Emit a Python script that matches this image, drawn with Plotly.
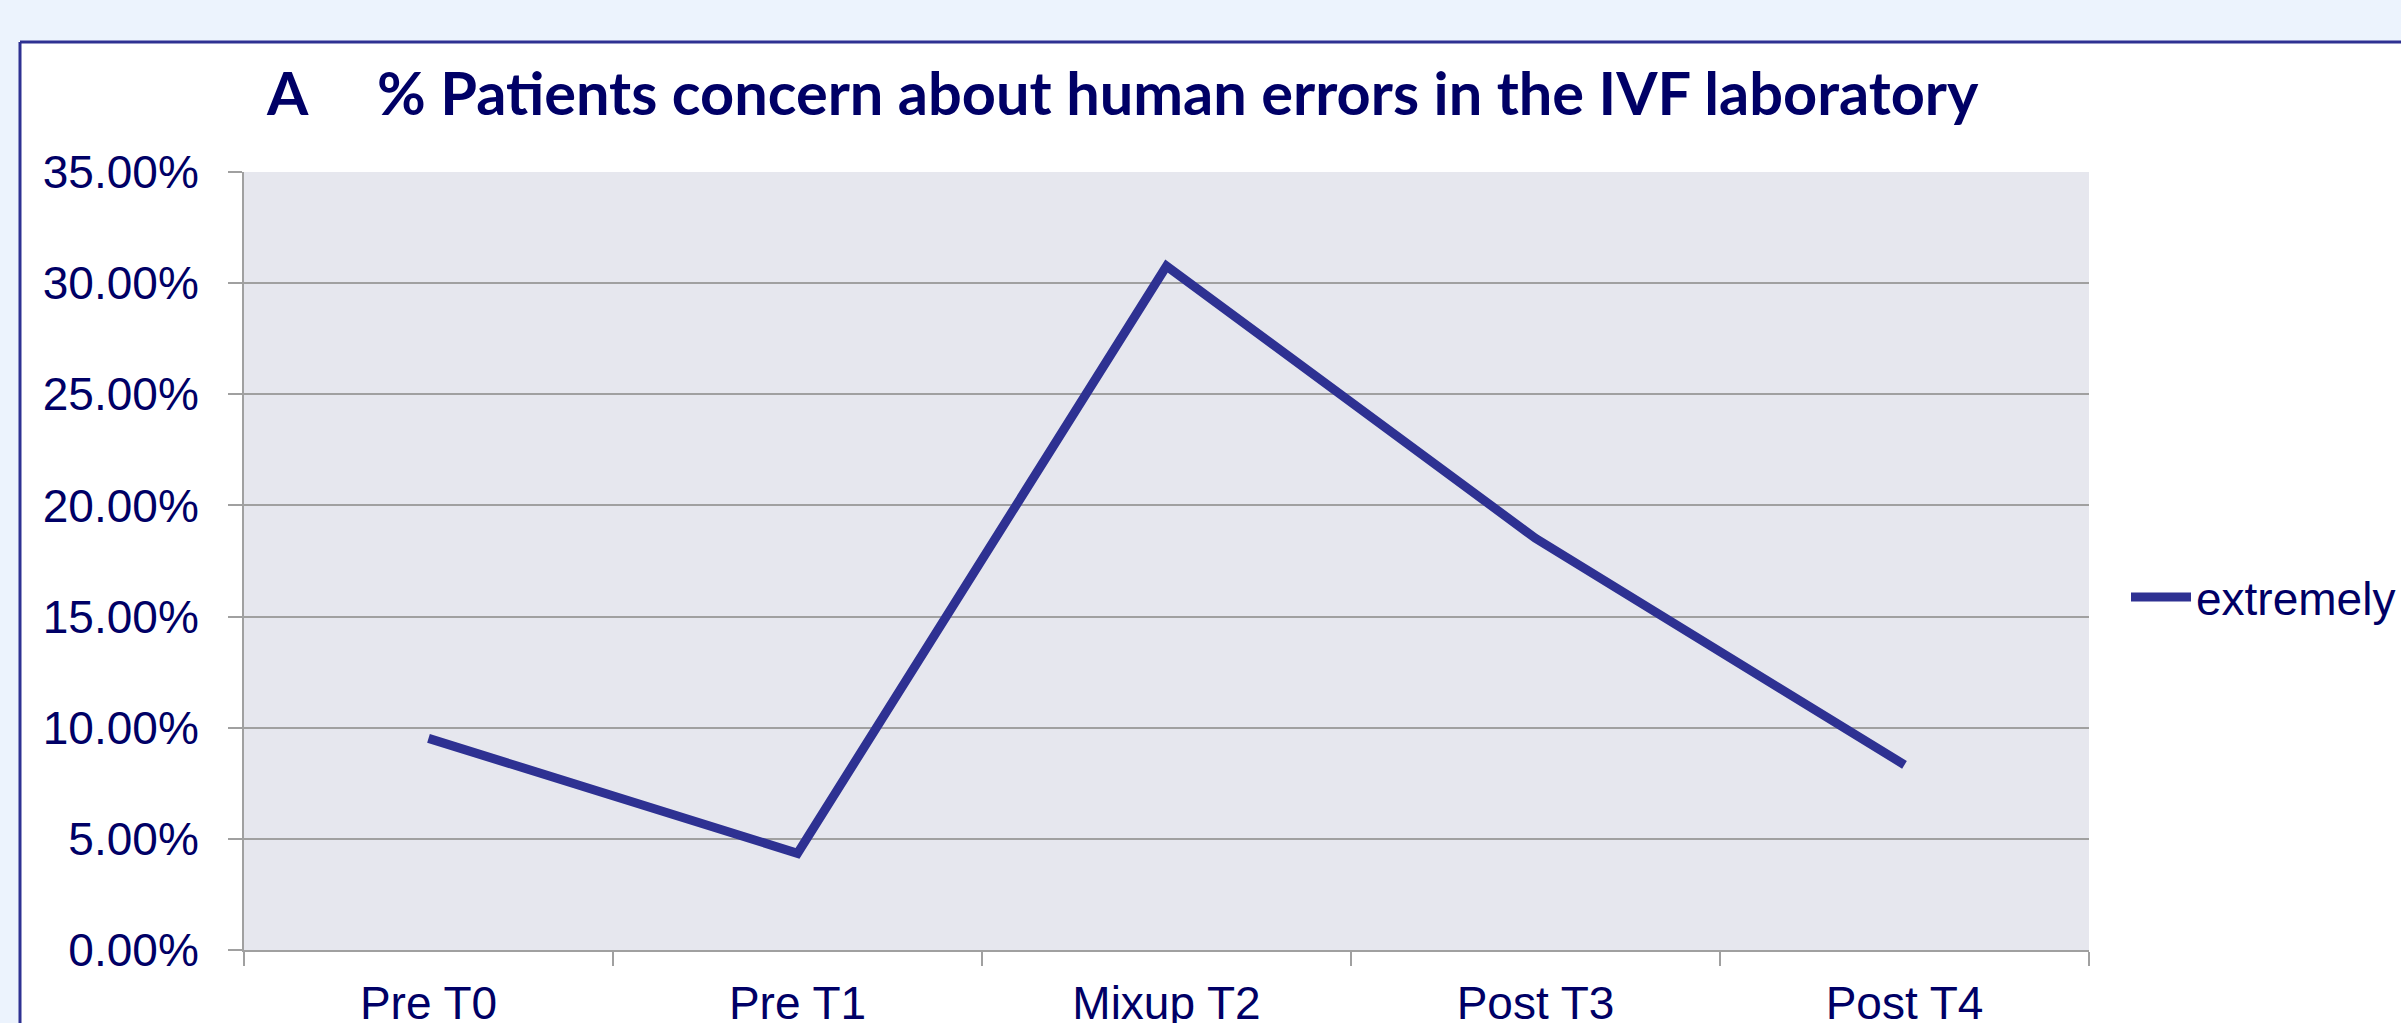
import plotly.graph_objects as go

# ---- data ----
categories = ["Pre T0", "Pre T1", "Mixup T2", "Post T3", "Post T4"]
extremely = [0.0952, 0.0435, 0.3077, 0.1852, 0.0833]
y_tick_values = [0.0, 0.05, 0.10, 0.15, 0.20, 0.25, 0.30, 0.35]
series_name = "extremely"
title_letter = "A"
title_text = "% Patients concern about human errors in the IVF laboratory"

# ---- layout constants ----
W, H = 2401, 1023
L, R, T, B = 244, 312, 172, 73
PW, PH = W - L - R, H - T - B

NAVY = "#000066"
LINE = "#2E3192"
GRID = "#A0A0A0"
PAGE = "#ECF3FD"
PLOTBG = "#E6E7EE"
FONT = "Liberation Sans, Arial, sans-serif"


def px(x):
    return (x - L) / PW


def py(y):
    return (H - B - y) / PH


fig = go.Figure()
fig.add_trace(go.Scatter(
    x=categories, y=extremely, mode="lines", name=series_name,
    line=dict(color=LINE, width=9),
))

shapes = [
    dict(type="rect", xref="paper", yref="paper", x0=px(-20), x1=px(2500),
         y0=py(41), y1=py(-20), fillcolor=PAGE, line=dict(width=0), layer="below"),
    dict(type="rect", xref="paper", yref="paper", x0=px(-20), x1=px(19),
         y0=py(1100), y1=py(41), fillcolor=PAGE, line=dict(width=0), layer="below"),
    dict(type="line", xref="paper", yref="paper", x0=px(20), x1=px(2500),
         y0=py(42), y1=py(42), line=dict(color=LINE, width=3), layer="below"),
    dict(type="line", xref="paper", yref="paper", x0=px(20), x1=px(20),
         y0=py(42), y1=py(1100), line=dict(color=LINE, width=3), layer="below"),
]

annotations = [
    dict(text="<b>" + title_letter + "</b>", xref="paper", yref="paper",
         x=px(264), y=py(92), xanchor="left", yanchor="middle", showarrow=False,
         font=dict(family="Lato, sans-serif", size=59.5, color=NAVY)),
    dict(text="<b>" + title_text + "</b>", xref="paper", yref="paper",
         x=px(375), y=py(92), xanchor="left", yanchor="middle", showarrow=False,
         font=dict(family="Lato, sans-serif", size=59.5, color=NAVY)),
]

fig.update_layout(
    template="none",
    width=W, height=H,
    margin=dict(l=L, r=R, t=T, b=B, pad=0, autoexpand=False),
    paper_bgcolor="white",
    plot_bgcolor=PLOTBG,
    font=dict(family=FONT, size=46, color=NAVY),
    shapes=shapes,
    annotations=annotations,
    showlegend=True,
    legend=dict(
        x=px(2126), y=py(597), xanchor="left", yanchor="middle",
        font=dict(family=FONT, size=46, color=NAVY),
        bgcolor="rgba(0,0,0,0)", itemwidth=60, borderwidth=0,
    ),
    xaxis=dict(
        type="category", tickson="boundaries", ticks="outside", ticklen=14,
        tickwidth=2, tickcolor=GRID, showline=True, linecolor=GRID, linewidth=2,
        showgrid=False, tickfont=dict(family=FONT, size=46, color=NAVY),
        range=[-0.5, 4.5], fixedrange=True, ticklabelstandoff=12,
        automargin=False, zeroline=False,
    ),
    yaxis=dict(
        range=[0, 0.35], tickvals=y_tick_values, tickformat=".2%",
        ticks="outside", ticklen=14, tickwidth=2, tickcolor=GRID,
        showline=True, linecolor=GRID, linewidth=2,
        showgrid=True, gridcolor=GRID, gridwidth=2, zeroline=False,
        tickfont=dict(family=FONT, size=46, color=NAVY), ticklabelstandoff=20,
        automargin=False, fixedrange=True,
    ),
)

fig.write_html(
    "out.html",
    config={"displayModeBar": False},
    post_script="document.body.style.margin='0';document.body.style.background='#ECF3FD';",
)
